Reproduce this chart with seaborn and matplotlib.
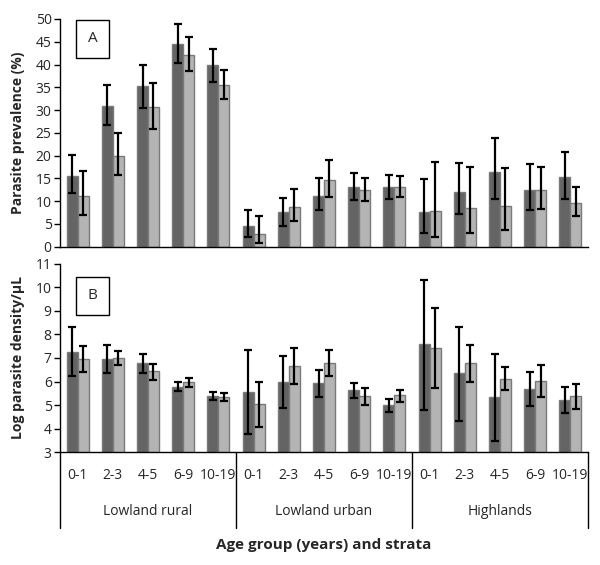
import matplotlib
matplotlib.use('Agg')
import matplotlib.pyplot as plt
import matplotlib.transforms as mtransforms
import seaborn as sns
import pandas as pd
import numpy as np

# Dữ liệu
strata = ['Lowland rural', 'Lowland urban', 'Highlands']
ages = ['0-1', '2-3', '4-5', '6-9', '10-19']
series = ['dark', 'light']

prev_dark = [15.6, 31.0, 35.2, 44.6, 39.8, 4.6, 7.6, 11.2, 13.1, 13.0, 7.6, 12.1, 16.4, 12.4, 15.3]
prev_dark_lo = [11.7, 26.7, 30.5, 40.3, 36.1, 2.1, 4.5, 8.1, 10.2, 10.4, 3.1, 7.2, 10.4, 8.1, 10.5]
prev_dark_hi = [20.1, 35.4, 40.0, 49.0, 43.4, 8.1, 10.7, 15.0, 16.2, 15.7, 14.9, 18.4, 23.9, 18.1, 20.9]
prev_light = [11.2, 20.0, 30.7, 42.1, 35.5, 2.8, 8.7, 14.6, 12.4, 13.0, 7.8, 8.6, 8.9, 12.4, 9.6]
prev_light_lo = [7.0, 15.7, 25.8, 38.5, 32.4, 0.7, 5.6, 10.8, 10.0, 10.8, 2.1, 3.1, 3.7, 8.3, 6.7]
prev_light_hi = [16.7, 24.9, 36.0, 46.0, 38.7, 6.8, 12.7, 19.1, 15.1, 15.5, 18.6, 17.6, 17.3, 17.5, 13.0]

dens_dark = [7.27, 6.95, 6.78, 5.78, 5.40, 5.57, 5.99, 5.93, 5.64, 5.00, 7.57, 6.36, 5.34, 5.69, 5.23]
dens_dark_lo = [6.22, 6.34, 6.37, 5.60, 5.23, 3.76, 4.86, 5.34, 5.31, 4.71, 4.81, 4.34, 3.49, 4.96, 4.66]
dens_dark_hi = [8.32, 7.56, 7.16, 5.98, 5.57, 7.34, 7.09, 6.50, 5.95, 5.26, 10.31, 8.33, 7.16, 6.40, 5.75]
dens_light = [6.95, 7.00, 6.43, 5.96, 5.33, 5.05, 6.67, 6.78, 5.37, 5.41, 7.43, 6.78, 6.12, 6.03, 5.38]
dens_light_lo = [6.40, 6.70, 6.07, 5.78, 5.16, 4.07, 5.89, 6.23, 4.99, 5.14, 5.74, 5.98, 5.62, 5.33, 4.83]
dens_light_hi = [7.49, 7.29, 6.75, 6.16, 5.52, 6.00, 7.44, 7.32, 5.72, 5.65, 9.11, 7.54, 6.60, 6.72, 5.91]

cats = [f'{s}|{a}' for s in strata for a in ages]

def make_df(dark, dark_lo, dark_hi, light, light_lo, light_hi):
    return pd.DataFrame({
        'cat': cats * 2,
        'grp': ['dark'] * 15 + ['light'] * 15,
        'val': dark + light,
        'lo': dark_lo + light_lo,
        'hi': dark_hi + light_hi,
    })

df_prev = make_df(prev_dark, prev_dark_lo, prev_dark_hi, prev_light, prev_light_lo, prev_light_hi)
df_dens = make_df(dens_dark, dens_dark_lo, dens_dark_hi, dens_light, dens_light_lo, dens_light_hi)

sns.set_style('white')
plt.rcParams['font.family'] = ['Open Sans', 'DejaVu Sans']

fig = plt.figure(figsize=(6, 5.65), dpi=100)
ax1 = fig.add_axes([0.1, 0.5634, 0.88, 0.403])
ax2 = fig.add_axes([0.1, 0.1995, 0.88, 0.334])

palette = {'dark': '#646464', 'light': '#b4b4b4'}

def draw(ax, df):
    sns.barplot(data=df, x='cat', y='val', hue='grp', order=cats, hue_order=series,
                palette=palette, width=0.62, gap=0, errorbar=None, legend=False,
                edgecolor='#7a7a7a', linewidth=1.0, saturation=1, ax=ax)
    for cont, g in zip(ax.containers, series):
        sub = df[df['grp'] == g].set_index('cat').loc[cats]
        xs = [b.get_x() + b.get_width() / 2 for b in cont]
        v = sub['val'].values
        ax.errorbar(xs, v, yerr=[v - sub['lo'].values, sub['hi'].values - v],
                    fmt='none', ecolor='black', elinewidth=1.6, capsize=3, capthick=1.6)
    ax.set_xlim(-0.5, 14.5)
    ax.set_xlabel('')
    for s in ['top', 'right']:
        ax.spines[s].set_visible(False)
    for s in ['left', 'bottom']:
        ax.spines[s].set_color('black')
        ax.spines[s].set_linewidth(1.0)
    ax.tick_params(axis='y', left=True, length=4, width=1, labelsize=10, pad=2, color='black')

draw(ax1, df_prev)
ax1.set_ylim(0, 50)
ax1.set_yticks(range(0, 51, 5))
ax1.set_xticks([])
ax1.set_ylabel('Parasite prevalence (%)', fontsize=10, fontweight='bold')

draw(ax2, df_dens)
ax2.set_ylim(3, 11)
ax2.set_yticks(range(3, 12))
ax2.set_xticks(range(15))
ax2.set_xticklabels(ages * 3, fontsize=10)
ax2.tick_params(axis='x', bottom=False, pad=8)
ax2.set_ylabel('Log parasite density/µL', fontsize=10, fontweight='bold')
ax2.yaxis.set_label_coords(-0.066, 0.5)
ax1.yaxis.set_label_coords(-0.066, 0.5)

# Nhãn nhóm và đường phân cách
trans = mtransforms.blended_transform_factory(ax2.transData, ax2.transAxes)
for i, s in enumerate(strata):
    ax2.text(i * 5 + 2, -0.315, s, transform=trans, ha='center', va='center', fontsize=10)
for xb in [-0.5, 4.5, 9.5, 14.5]:
    ax2.plot([xb, xb], [0, -0.40], transform=trans, color='black', lw=1.0, clip_on=False)

fig.text(0.54, 0.035, 'Age group (years) and strata', ha='center', va='center',
         fontsize=11, fontweight='bold')

# Hộp chữ A, B
for ax, lab, yy in [(ax1, 'A', 0.914), (ax2, 'B', 0.83)]:
    ax.text(0.062, yy, lab, transform=ax.transAxes, ha='center', va='center',
            fontsize=11, bbox=dict(boxstyle='square,pad=0.75', facecolor='white', edgecolor='black', lw=1.0))

fig.savefig('out.png', dpi=100)
